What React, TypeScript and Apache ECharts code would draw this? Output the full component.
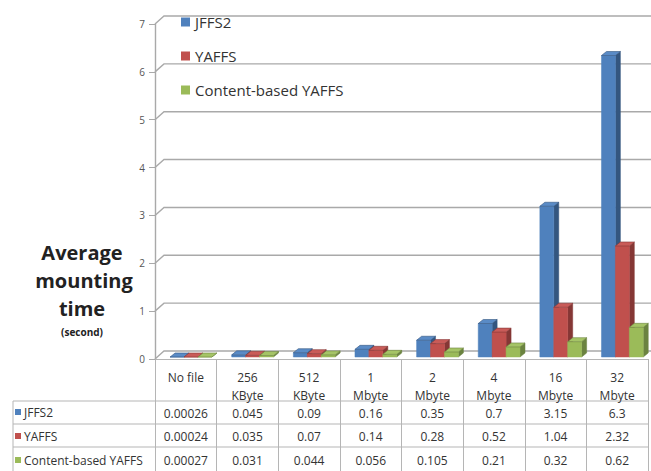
import React, { useEffect, useRef } from "react";
import * as echarts from "echarts";

const categories = ["No file", "256\nKByte", "512\nKByte", "1\nMbyte", "2\nMbyte", "4\nMbyte", "16\nMbyte", "32\nMbyte"];
const seriesNames = ["JFFS2", "YAFFS", "Content-based YAFFS"];
const jffs2 = [0.00026, 0.045, 0.09, 0.16, 0.35, 0.7, 3.15, 6.3];
const yaffs = [0.00024, 0.035, 0.07, 0.14, 0.28, 0.52, 1.04, 2.32];
const contentYaffs = [0.00027, 0.031, 0.044, 0.056, 0.105, 0.21, 0.32, 0.62];
const yTicks = [0, 1, 2, 3, 4, 5, 6, 7];

const FONT = "'Open Sans', sans-serif";
const fronts = ["#4F81BD", "#C0504D", "#9BBB59"];
const sides = ["#34567F", "#853735", "#6B8340"];
const tops = ["#5A8BC6", "#C95B58", "#A5C466"];
const GRID_COLOR = "#A9A9A9";

export default function App() {
  const ref = useRef<HTMLDivElement>(null);
  useEffect(() => {
    const chart = echarts.init(ref.current!, null, { renderer: "svg" });
    const allSeries = [jffs2, yaffs, contentYaffs];

    const barSeries = allSeries.map((vals, s) => ({
      type: "custom",
      name: seriesNames[s],
      itemStyle: { color: fronts[s] },
      data: vals.map((v, i) => [i, v]),
      encode: { x: 0, y: 1 },
      renderItem: (params: any, api: any) => {
        const i = api.value(0);
        const v = api.value(1);
        const base = api.coord([i, 0]);
        const top = api.coord([i, v]);
        const band = api.size([1, 0])[0];
        const w = band * 0.226;
        const x = base[0] - band * 0.255 + s * w;
        const yb = base[1] - 2;
        const yt = top[1] - 2;
        const dx = 5;
        const dy = 4;
        return {
          type: "group",
          children: [
            {
              type: "polygon",
              shape: { points: [[x + w, yt], [x + w + dx, yt - dy], [x + w + dx, yb - dy], [x + w, yb]] },
              style: { fill: sides[s], stroke: sides[s], lineWidth: 0.5 },
            },
            {
              type: "rect",
              shape: { x, y: yt, width: w, height: Math.max(0, yb - yt) },
              style: { fill: fronts[s], stroke: fronts[s], lineWidth: 0.5 },
            },
            {
              type: "polygon",
              shape: { points: [[x, yt], [x + dx, yt - dy], [x + w + dx, yt - dy], [x + w, yt]] },
              style: { fill: tops[s], stroke: sides[s], lineWidth: 0.6 },
            },
          ],
        };
      },
    }));

    const wallSeries = {
      type: "custom",
      name: "wall",
      silent: true,
      data: yTicks.map((t) => [0, t]),
      encode: { x: 0, y: 1 },
      renderItem: (params: any, api: any) => {
        const p = api.coord([0, api.value(1)]);
        const x0 = params.coordSys.x;
        const y = p[1];
        return {
          type: "polyline",
          shape: { points: [[x0, y], [x0 + 9, y - 8], [api.getWidth(), y - 8]] },
          style: { stroke: GRID_COLOR, lineWidth: 1.4, fill: "none" },
        };
      },
    };

    const rowSets = [jffs2, yaffs, contentYaffs];
    const valueAxes = rowSets.map((vals, k) => ({
      type: "category",
      data: categories,
      position: "bottom",
      offset: [47, 70, 94][k],
      axisLine: { show: false },
      axisTick: { show: false },
      axisLabel: {
        interval: 0,
        margin: 0,
        fontFamily: FONT,
        fontSize: 12,
        lineHeight: 14,
        color: "#333",
        formatter: (_v: string, idx: number) => String(vals[idx]),
      },
    }));

    const rowYs = [412, 436, 460];
    const graphics: any[] = [
      {
        type: "text",
        style: { text: "Average", x: 82, y: 252, align: "center", verticalAlign: "middle", font: `bold 20px ${FONT}`, fill: "#222" },
      },
      {
        type: "text",
        style: { text: "mounting", x: 84, y: 280, align: "center", verticalAlign: "middle", font: `bold 20px ${FONT}`, fill: "#222" },
      },
      {
        type: "text",
        style: { text: "time", x: 82, y: 308, align: "center", verticalAlign: "middle", font: `bold 20px ${FONT}`, fill: "#222" },
      },
      {
        type: "text",
        style: { text: "(second)", x: 82, y: 332, align: "center", verticalAlign: "middle", font: `bold 10px ${FONT}`, fill: "#222" },
      },
    ];
    [401, 424, 447].forEach((y) => {
      graphics.push({
        type: "line",
        shape: { x1: 13, y1: y, x2: 648, y2: y },
        style: { stroke: "#B5B5B5", lineWidth: 1 },
      });
    });
    graphics.push({
      type: "line",
      shape: { x1: 13, y1: 401, x2: 13, y2: 471 },
      style: { stroke: "#B5B5B5", lineWidth: 1 },
    });
    seriesNames.forEach((n, k) => {
      graphics.push({
        type: "rect",
        shape: { x: 15, y: rowYs[k] - 3, width: 6, height: 6 },
        style: { fill: fronts[k] },
      });
      graphics.push({
        type: "text",
        style: { text: n, x: 24, y: rowYs[k], verticalAlign: "middle", font: `12px ${FONT}`, fill: "#333" },
      });
    });

    chart.setOption({
      animation: false,
      backgroundColor: "#fff",
      grid: { left: 155, right: 3, top: 24, bottom: 112 },
      legend: {
        data: seriesNames,
        orient: "vertical",
        left: 176,
        top: 8,
        icon: "rect",
        itemWidth: 9,
        itemHeight: 9,
        itemGap: 16,
        textStyle: { fontFamily: FONT, fontSize: 15, color: "#333", lineHeight: 18 },
      },
      xAxis: [
        {
          type: "category",
          data: categories,
          position: "bottom",
          axisLine: { show: true, lineStyle: { color: "#B5B5B5", width: 1 } },
          axisTick: { show: true, length: 112, interval: 0, lineStyle: { color: "#B5B5B5", width: 1 } },
          axisLabel: {
            interval: 0,
            margin: 9,
            fontFamily: FONT,
            fontSize: 12,
            lineHeight: 18,
            color: "#333",
          },
        },
        ...valueAxes,
      ],
      yAxis: {
        type: "value",
        min: 0,
        max: 7,
        interval: 1,
        axisLine: { show: true, lineStyle: { color: GRID_COLOR, width: 1.4 } },
        axisTick: { show: true, length: 6, lineStyle: { color: GRID_COLOR } },
        splitLine: { show: false },
        axisLabel: { margin: 10, fontFamily: FONT, fontSize: 10, color: "#555" },
      },
      graphic: graphics,
      series: [wallSeries, ...barSeries],
    });
    return () => chart.dispose();
  }, []);
  return (
    <div
      ref={ref}
      style={{ position: "fixed", left: 0, top: 0, width: 651, height: 471 }}
    />
  );
}
